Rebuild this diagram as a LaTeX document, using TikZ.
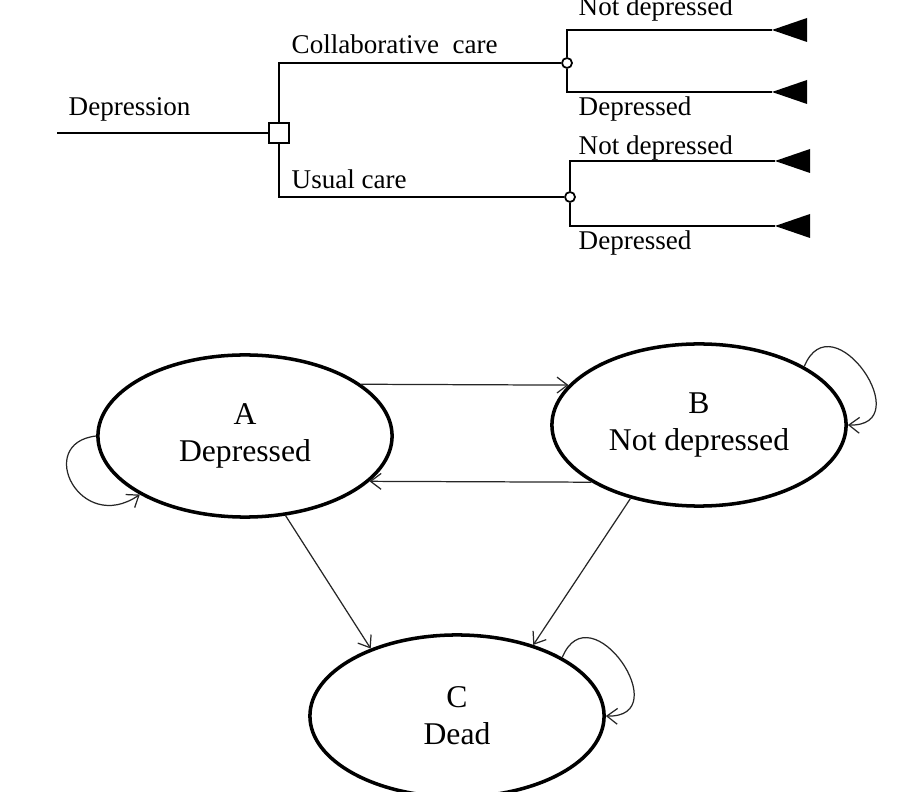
\documentclass[tikz,border=0pt]{standalone}
\usepackage{fontspec}
\setmainfont{Liberation Serif}
\usetikzlibrary{shapes.geometric,arrows.meta}

\begin{document}
\begin{tikzpicture}[x=0.01cm,y=-0.01cm,
    branch/.style={line width=0.65pt},
    lbl/.style={font=\fontsize{7.7}{9}\selectfont,inner sep=0pt,anchor=base west},
    state/.style={ellipse,draw,line width=1pt,minimum width=2.94cm,minimum height=1.62cm,
        align=center,font=\fontsize{9}{10.6}\selectfont,inner sep=0pt},
    trans/.style={line width=0.35pt,draw=black!85,-{Straight Barb[length=3pt,width=4.5pt]}}]
\useasboundingbox (0,0) rectangle (910,792);

% decision tree
\coordinate (root) at (57,133);
\node[draw,branch,fill=white,minimum size=0.2cm,inner sep=0pt] (dec) at (279,133) {};
\node[circle,draw,line width=0.5pt,minimum size=0.1cm,inner sep=0pt] (cc) at (567,63) {};
\node[circle,draw,line width=0.5pt,minimum size=0.1cm,inner sep=0pt] (uc) at (570,197) {};
\coordinate (t1) at (772,30);
\coordinate (t2) at (772,92);
\coordinate (t3) at (775,161);
\coordinate (t4) at (775,226);

\draw[branch] (root) -- (dec.west);
\draw[branch] (dec.north) |- (cc.west);
\draw[branch] (dec.south) |- (uc.west);
\draw[branch] (cc.north) |- (t1);
\draw[branch] (cc.south) |- (t2);
\draw[branch] (uc.north) |- (t3);
\draw[branch] (uc.south) |- (t4);
\foreach \t in {t1,t2,t3,t4}
    \fill (\t) -- ++(35,-12) -- ++(0,24) -- cycle;

\node[lbl] (ldep) at (68,116) {Depression};
\node[lbl] (lcc) at (291,54) {Collaborative\hspace{0.5em}care};
\node[lbl] (luc) at (291,189) {Usual care};
\node[lbl] (lnd1) at (578,16) {Not depressed};
\node[lbl] (ld1) at (578,116) {Depressed};
\node[lbl] (lnd2) at (578,155) {Not depressed};
\node[lbl] (ld2) at (578,250) {Depressed};

% markov states
\node[state] (A) at (245,436) {A\\Depressed};
\node[state] (B) at (699,425) {B\\Not depressed};
\node[state] (C) at (457,716) {C\\Dead};

\draw[trans] (A.24.7) -- (B.163.4);
\draw[trans] (B.208.6) -- (A.340.2);
\draw[trans] (A.297.4) -- (C.142.2);
\draw[trans] (B.227.4) -- (C.43);
\draw[trans] (A.west) .. controls +(-62,7) and +(-60,41) .. (A.south west);
\draw[trans] (B.north east) .. controls +(28,-68) and +(72,2) .. (B.east);
\draw[trans] (C.north east) .. controls +(28,-68) and +(72,2) .. (C.east);
\end{tikzpicture}
\end{document}
